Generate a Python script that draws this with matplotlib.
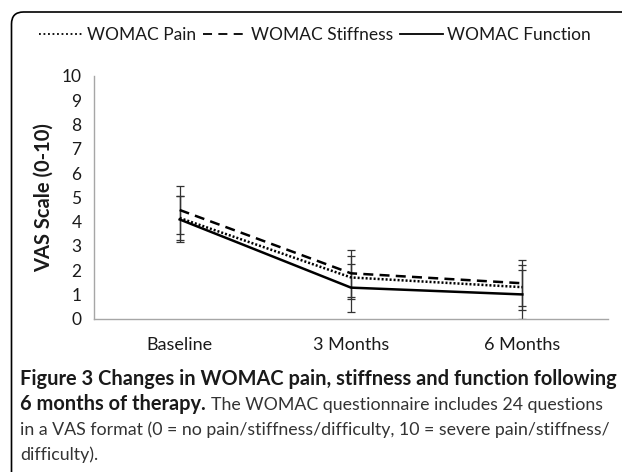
import matplotlib
matplotlib.use("Agg")
import matplotlib.pyplot as plt
from matplotlib.patches import FancyBboxPatch
from matplotlib.lines import Line2D
import numpy as np

categories = ["Baseline", "3 Months", "6 Months"]
pain = [4.15, 1.70, 1.30]
pain_err = [0.90, 0.87, 0.93]
stiffness = [4.48, 1.87, 1.46]
stiffness_err = [0.97, 0.98, 0.95]
function = [4.09, 1.28, 1.00]
function_err = [0.95, 0.99, 1.00]
yticks = list(range(0, 11))
series_names = ["WOMAC Pain", "WOMAC Stiffness", "WOMAC Function"]

W, H = 622, 472
fig = plt.figure(figsize=(W / 100, H / 100), dpi=100)
FONT = "Lato"
TXT = "#1a1a1a"

def px(x0, y0, x1, y1):
    return [x0 / W, 1 - y1 / H, (x1 - x0) / W, (y1 - y0) / H]

ax = fig.add_axes(px(94, 76, 608, 318.7))
x = np.arange(len(categories))
err_kw = dict(ecolor="#333333", elinewidth=0.9, capsize=3, capthick=0.9)
ax.errorbar(x, pain, yerr=pain_err, color="black", lw=1.8, ls=(0, (0.8, 0.8)), **err_kw)
ax.errorbar(x, stiffness, yerr=stiffness_err, color="black", lw=1.8, ls=(0, (4, 2.5)), **err_kw)
ax.errorbar(x, function, yerr=function_err, color="black", lw=1.8, ls="-", **err_kw)

ax.set_xlim(-0.5, 2.5)
ax.set_ylim(0, 10)
ax.set_yticks(yticks)
ax.set_yticklabels([str(t) for t in yticks], fontsize=12.5, family=FONT, color=TXT)
ax.set_xticks(x)
ax.set_xticklabels(categories, fontsize=13, family=FONT, color=TXT, va="center")
ax.tick_params(axis="both", length=0)
ax.tick_params(axis="y", pad=9)
ax.tick_params(axis="x", pad=19)
for s in ["top", "right"]:
    ax.spines[s].set_visible(False)
for s in ["left", "bottom"]:
    ax.spines[s].set_color("#a6a6a6")
    ax.spines[s].set_linewidth(1.0)
ax.set_ylabel("VAS Scale (0-10)", fontsize=14.5, family=FONT, fontweight="bold",
              color=TXT, va="center")
ax.yaxis.set_label_coords((43.5 - 94) / (608 - 94), 0.5)

handles = [Line2D([], [], color="black", lw=1.3, ls=(0, (1, 1.5))),
           Line2D([], [], color="black", lw=1.3, ls=(0, (5, 3.5))),
           Line2D([], [], color="black", lw=1.3, ls="-")]
fig.legend(handles, series_names, ncol=3,
           loc="center left", bbox_to_anchor=(39 / W, 1 - 35 / H), frameon=False,
           prop={"family": FONT, "size": 12.5}, handlelength=2.5, handletextpad=0.25,
           columnspacing=0.4, borderaxespad=0, borderpad=0, labelcolor=TXT)

# outer frame
frame = FancyBboxPatch((11.5 / 100, -1.0), 7.0, (H - 12) / 100 + 1.0,
                       boxstyle="round,pad=0,rounding_size=0.12",
                       transform=fig.dpi_scale_trans, fill=False, ec="black", lw=1.2)
fig.add_artist(frame)

# caption
CF = "Lato"
r = fig.canvas.get_renderer()

def fitted(s, y, target_w, weight, color, x0=20):
    t = fig.text(x0 / W, 1 - y / H, s, fontsize=12, family=CF, fontweight=weight,
                 va="baseline", ha="left", color=color)
    w = t.get_window_extent(r).width
    t.set_fontsize(12 * target_w / w)
    return t

t1 = fitted("Figure 3 Changes in WOMAC pain, stiffness and function following", 385, 593,
            "bold", "#1a1a1a")
bsize = t1.get_fontsize()
t3 = fitted("in a VAS format (0 = no pain/stiffness/difficulty, 10 = severe pain/stiffness/", 435,
            587, "normal", "#333333")
rsize = t3.get_fontsize()
b = fig.text(20 / W, 1 - 410 / H, "6 months of therapy.", fontsize=bsize, family=CF,
             fontweight="bold", va="baseline", ha="left", color="#1a1a1a")
bb = b.get_window_extent(r)
fig.text((bb.x1 + 5) / W, 1 - 410 / H,
         "The WOMAC questionnaire includes 24 questions", fontsize=rsize, family=CF,
         fontweight="normal", va="baseline", ha="left", color="#333333")
fig.text(20 / W, 1 - 460 / H, "difficulty).", fontsize=rsize, family=CF,
         fontweight="normal", va="baseline", ha="left", color="#333333")

fig.savefig("out.png", dpi=100)
